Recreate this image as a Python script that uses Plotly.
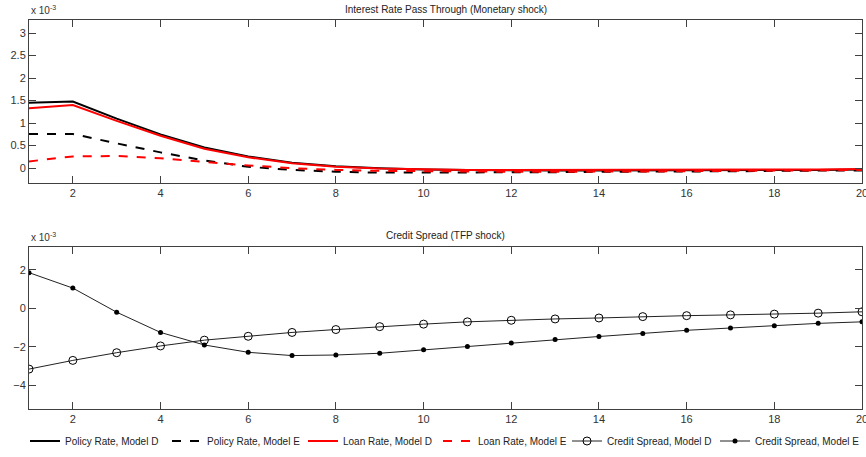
import plotly.graph_objects as go
from plotly.subplots import make_subplots

periods = list(range(1, 21))

# Interest Rate Pass Through (Monetary shock), units of 1e-3
policy_rate_D = [1.45, 1.48, 1.10, 0.75, 0.46, 0.26, 0.12, 0.04, 0.0, -0.03, -0.04, -0.05, -0.05, -0.05, -0.05, -0.05, -0.04, -0.04, -0.04, -0.03]
policy_rate_E = [0.76, 0.76, 0.55, 0.35, 0.17, 0.03, -0.04, -0.08, -0.10, -0.10, -0.10, -0.09, -0.09, -0.08, -0.08, -0.07, -0.07, -0.06, -0.06, -0.05]
loan_rate_D = [1.33, 1.40, 1.05, 0.72, 0.43, 0.24, 0.11, 0.03, -0.01, -0.03, -0.04, -0.04, -0.04, -0.04, -0.04, -0.04, -0.03, -0.03, -0.03, -0.02]
loan_rate_E = [0.15, 0.26, 0.27, 0.22, 0.14, 0.06, 0.0, -0.04, -0.06, -0.07, -0.08, -0.08, -0.08, -0.08, -0.07, -0.07, -0.06, -0.06, -0.05, -0.04]

# Credit Spread (TFP shock), units of 1e-3
spread_D = [-3.15, -2.70, -2.30, -1.95, -1.65, -1.45, -1.25, -1.10, -0.95, -0.82, -0.70, -0.62, -0.55, -0.50, -0.43, -0.38, -0.34, -0.30, -0.25, -0.18]
spread_E = [1.85, 1.05, -0.20, -1.25, -1.90, -2.28, -2.45, -2.42, -2.33, -2.15, -1.98, -1.80, -1.62, -1.46, -1.30, -1.14, -1.02, -0.90, -0.78, -0.70]

titles = ["Interest Rate Pass Through (Monetary shock)", "Credit Spread (TFP shock)"]
x_ticks = [2, 4, 6, 8, 10, 12, 14, 16, 18, 20]
top_ticks = [0, 0.5, 1, 1.5, 2, 2.5, 3]
top_ticktext = ["0", "0.5", "1", "1.5", "2", "2.5", "3"]
bot_ticks = [-4, -2, 0, 2]

FONT = "Liberation Sans, Arial, sans-serif"

fig = make_subplots(rows=2, cols=1)

legend_ids = ["legend", "legend2", "legend3", "legend4", "legend5", "legend6"]

fig.add_trace(go.Scatter(x=periods, y=policy_rate_D, mode="lines", name="Policy Rate, Model D", legend=legend_ids[0],
                         showlegend=True, line=dict(color="black", width=2)), row=1, col=1)
fig.add_trace(go.Scatter(x=periods, y=policy_rate_E, mode="lines", name="Policy Rate, Model E", legend=legend_ids[1],
                         showlegend=True, line=dict(color="black", width=2, dash="dash")), row=1, col=1)
fig.add_trace(go.Scatter(x=periods, y=loan_rate_D, mode="lines", name="Loan Rate, Model D", legend=legend_ids[2],
                         showlegend=True, line=dict(color="#ff0000", width=2)), row=1, col=1)
fig.add_trace(go.Scatter(x=periods, y=loan_rate_E, mode="lines", name="Loan Rate, Model E", legend=legend_ids[3],
                         showlegend=True, line=dict(color="#ff0000", width=2, dash="dash")), row=1, col=1)
fig.add_trace(go.Scatter(x=periods, y=spread_D, mode="lines+markers", name="Credit Spread, Model D", legend=legend_ids[4],
                         showlegend=True, line=dict(color="#222", width=1),
                         marker=dict(symbol="circle-open", size=8, color="black", line=dict(width=1))), row=2, col=1)
fig.add_trace(go.Scatter(x=periods, y=spread_E, mode="lines+markers", name="Credit Spread, Model E", legend=legend_ids[5],
                         showlegend=True, line=dict(color="#222", width=1),
                         marker=dict(symbol="circle", size=5, color="black")), row=2, col=1)

W, H = 866, 457
l, r, t, b = 29, 4, 20, 48
plot_h = H - t - b
def yfrac(px):
    return (H - b - px) / plot_h

axis_common = dict(showgrid=False, zeroline=False, showline=True, linecolor="#404040", linewidth=1,
                   mirror="ticks", ticks="inside", ticklen=7, tickcolor="#404040",
                   ticklabeloverflow="allow", automargin=False,
                   tickfont=dict(family=FONT, size=11, color="#333"))

fig.update_xaxes(range=[1, 20], tickvals=x_ticks, **axis_common)
fig.update_yaxes(**axis_common)
fig.update_layout(
    yaxis=dict(domain=[yfrac(183), 1], range=[-0.33, 3.29], tickvals=top_ticks, ticktext=top_ticktext),
    yaxis2=dict(domain=[0, yfrac(247)], range=[-5.22, 3.18], tickvals=bot_ticks),
)

fig.add_annotation(text=titles[0], xref="paper", yref="paper", x=0.5, y=yfrac(9), showarrow=False,
                   font=dict(family=FONT, size=10, color="#222"), yanchor="middle")
fig.add_annotation(text=titles[1], xref="paper", yref="paper", x=0.5, y=yfrac(236), showarrow=False,
                   font=dict(family=FONT, size=10, color="#222"), yanchor="middle")
fig.add_annotation(text="x 10<sup>-3</sup>", xref="paper", yref="paper", x=0, xanchor="left", y=yfrac(10),
                   showarrow=False, font=dict(family=FONT, size=10, color="#333"), yanchor="middle")
fig.add_annotation(text="x 10<sup>-3</sup>", xref="paper", yref="paper", x=0, xanchor="left", y=yfrac(237),
                   showarrow=False, font=dict(family=FONT, size=10, color="#333"), yanchor="middle")

legend_px = [25, 167, 303, 438, 567, 715]
legend_layout = {}
for lid, px in zip(legend_ids, legend_px):
    legend_layout[lid] = dict(orientation="h", xref="container", yref="container",
                              x=px / W, xanchor="left", y=(H - 441) / H, yanchor="middle",
                              font=dict(family=FONT, size=10, color="#222"), itemwidth=30,
                              bgcolor="rgba(0,0,0,0)")

fig.update_layout(
    width=W, height=H,
    showlegend=True,
    margin=dict(l=l, r=r, t=t, b=b, autoexpand=False),
    paper_bgcolor="white", plot_bgcolor="white",
    font=dict(family=FONT, size=10, color="#222"),
    **legend_layout,
)

fig.write_html("out.html", config={"displayModeBar": False},
               post_script="document.body.style.margin='0';document.body.style.overflow='hidden';")
